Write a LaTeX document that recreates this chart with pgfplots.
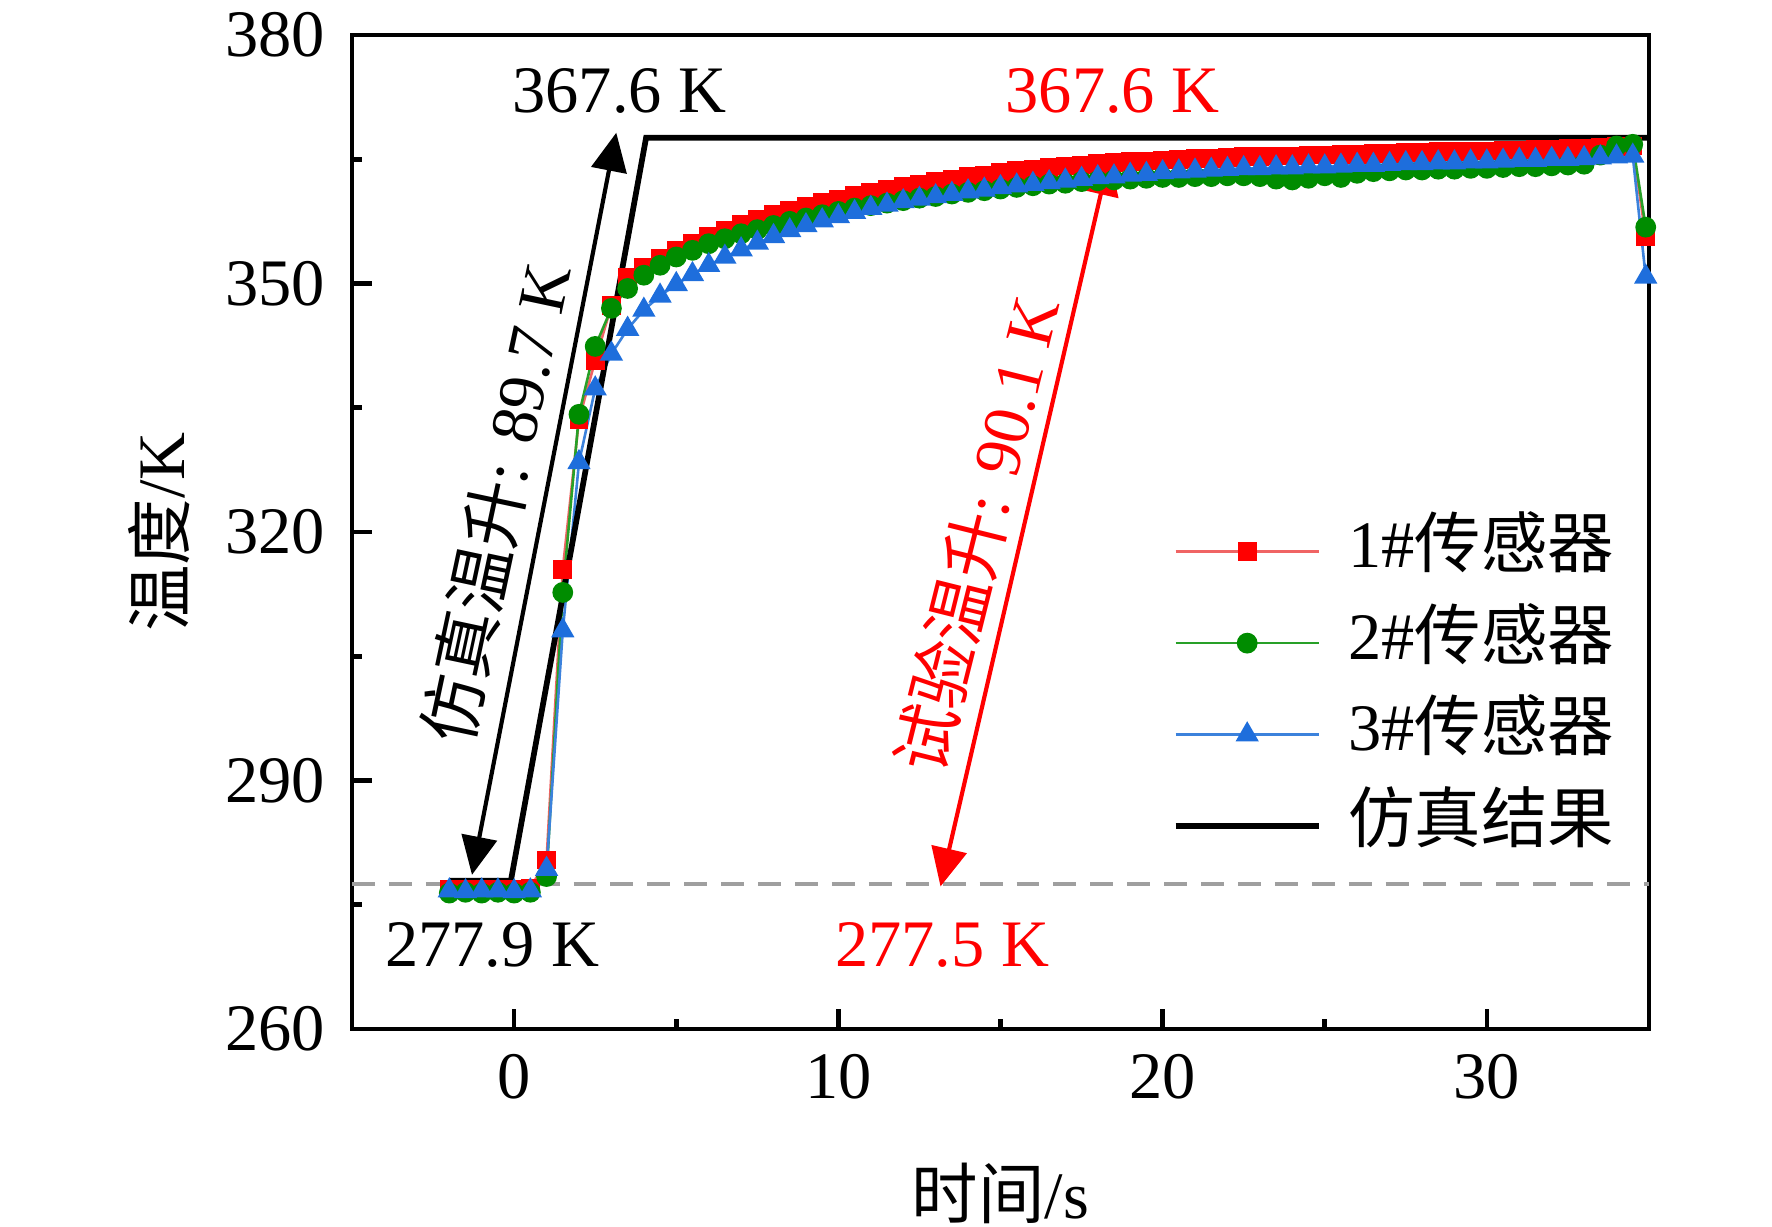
\documentclass[border=0pt]{standalone}
\usepackage{fontspec}
\setmainfont{Liberation Serif}
\newfontfamily\cjk{Noto Sans CJK SC}
\usepackage{pgfplots}
\usepackage{pgfplotstable}
\pgfplotsset{compat=1.18}
\usetikzlibrary{arrows.meta}
\definecolor{cred}{RGB}{255,0,0}
\definecolor{cgreen}{RGB}{0,140,0}
\definecolor{cblue}{RGB}{30,110,220}
\definecolor{lred}{RGB}{240,100,100}
\definecolor{lgreen}{RGB}{40,160,40}
\definecolor{lblue}{RGB}{60,130,220}
\pgfplotstableread{
t r g b
-2.0 276.9 276.4 276.7
-1.5 276.9 276.5 276.6
-1.0 276.8 276.4 276.7
-0.5 276.9 276.5 276.7
0.0 276.9 276.4 276.6
0.5 277.0 276.5 276.7
1.0 280.4 278.4 279.3
1.5 315.5 312.7 308.1
2.0 333.6 334.2 328.4
2.5 340.7 342.4 337.3
3.0 347.3 347.0 341.5
3.5 350.7 349.4 344.5
4.0 352.0 351.0 346.8
4.5 353.0 352.2 348.5
5.0 354.0 353.2 349.9
5.5 354.9 354.0 351.1
6.0 355.7 354.8 352.2
6.5 356.4 355.4 353.2
7.0 357.1 356.0 354.1
7.5 357.7 356.5 354.9
8.0 358.3 357.0 355.7
8.5 358.8 357.5 356.4
9.0 359.3 357.9 357.0
9.5 359.8 358.3 357.6
10.0 360.2 358.7 358.1
10.5 360.6 359.1 358.6
11.0 361.0 359.4 359.1
11.5 361.4 359.7 359.5
12.0 361.7 360.0 359.9
12.5 362.0 360.3 360.2
13.0 362.3 360.5 360.5
13.5 362.6 360.8 360.8
14.0 362.9 361.0 361.1
14.5 363.1 361.2 361.3
15.0 363.4 361.4 361.6
15.5 363.6 361.6 361.8
16.0 363.8 361.8 362.0
16.5 364.0 362.0 362.2
17.0 364.2 362.1 362.4
17.5 364.3 362.3 362.6
18.0 364.5 362.4 362.8
18.5 364.6 362.5 362.9
19.0 364.7 362.6 363.1
19.5 364.8 362.7 363.2
20.0 364.9 362.8 363.4
20.5 365.0 362.8 363.5
21.0 365.1 362.9 363.6
21.5 365.1 362.9 363.7
22.0 365.2 363.0 363.8
22.5 365.3 363.0 363.9
23.0 365.3 362.9 363.9
23.5 365.4 362.6 364.0
24.0 365.4 362.5 364.0
24.5 365.5 362.7 364.1
25.0 365.5 363.0 364.1
25.5 365.6 362.8 364.2
26.0 365.6 363.3 364.3
26.5 365.7 363.5 364.3
27.0 365.7 363.6 364.4
27.5 365.8 363.7 364.5
28.0 365.8 363.7 364.5
28.5 365.9 363.8 364.6
29.0 365.9 363.8 364.6
29.5 366.0 363.9 364.7
30.0 366.0 363.9 364.7
30.5 366.1 364.0 364.8
31.0 366.1 364.1 364.9
31.5 366.2 364.1 364.9
32.0 366.2 364.2 365.0
32.5 366.3 364.3 365.0
33.0 366.3 364.4 365.1
33.5 366.4 365.5 365.2
34.0 366.5 366.6 365.3
34.5 366.6 366.8 365.4
34.9 355.6 356.8 350.8
}\expdata
\begin{document}
\begin{tikzpicture}
\path[use as bounding box] (-2.384,-1.341) rectangle (9.616,6.968);
\begin{axis}[
  at={(0,0)}, anchor=south west,
  scale only axis, width=8.783cm, height=6.731cm,
  xmin=-5, xmax=35, ymin=260, ymax=380,
  xtick={0,10,20,30}, ytick={260,290,320,350,380},
  minor x tick num=1, minor y tick num=1,
  tick pos=left, tick align=inside,
  major tick length=0.135cm, minor tick length=0.07cm,
  every tick/.style={black, line width=0.9pt},
  axis line style={line width=0.9pt},
  font=\fontsize{12.8pt}{15pt}\selectfont,
  /pgf/number format/assume math mode=true,
  ticklabel style={font=\fontsize{12.8pt}{15pt}\selectfont},
  xticklabel style={yshift=-0.05cm},
  yticklabel style={xshift=-0.06cm},
  xlabel={{\cjk 时间}/s},
  ylabel={{\cjk 温度}/K},
  xlabel style={at={(axis description cs:0.5,-0.165)}, anchor=center},
  ylabel style={at={(axis description cs:-0.1488,0.5)}, anchor=center},
  legend style={at={(axis cs:20.28,321.5)}, anchor=north west, draw=none, fill=none,
    inner sep=0pt, row sep=0.2cm, column sep=0.18cm,
    nodes={inner sep=0pt, text height=0.32cm, text depth=0.1cm, anchor=west},
    font=\fontsize{12.8pt}{15pt}\selectfont},
  legend cell align=left,
  legend image code/.code={\draw[mark repeat=2,mark phase=2] plot coordinates {(0cm,0cm)(0.485cm,0cm)(0.97cm,0cm)};},
]
\addplot[forget plot, color=gray!75, line width=0.75pt, dash pattern=on 0.155cm off 0.095cm] coordinates {(-5,277.5)(35,277.5)};
\addplot[color=lred, line width=0.5pt, mark=square*, mark size=1.55pt, mark options={solid, fill=cred, draw=cred}] table[x=t,y=r] {\expdata};
\addlegendentry{1\#{\cjk 传感器}}
\addplot[color=lgreen, line width=0.5pt, mark=*, mark size=1.75pt, mark options={solid, fill=cgreen, draw=cgreen}] table[x=t,y=g] {\expdata};
\addlegendentry{2\#{\cjk 传感器}}
\addplot[color=lblue, line width=0.5pt, mark=triangle*, mark size=2.1pt, mark options={solid, fill=cblue, draw=cblue}] table[x=t,y=b] {\expdata};
\addlegendentry{3\#{\cjk 传感器}}
\addplot[color=black, line width=1.1pt, no marks] coordinates {(-2,277.9)(-0.1,277.9)(4.07,367.6)(35,367.6)};
\addlegendentry{{\cjk 仿真结果}}
\draw[line width=0.8pt, {Triangle[length=0.26cm,width=0.24cm]}-{Triangle[length=0.26cm,width=0.24cm]}] (axis cs:-1.3,278.6) -- (axis cs:3.15,368.2);
\draw[cred, line width=0.8pt, {Triangle[length=0.26cm,width=0.24cm]}-{Triangle[length=0.26cm,width=0.24cm]}] (axis cs:13.15,277.2) -- (axis cs:18.36,365.3);
\node[black] at (axis cs:3.25,373.2) {367.6 K};
\node[cred] at (axis cs:18.46,373.2) {367.6 K};
\node[black] at (axis cs:-0.68,270.1) {277.9 K};
\node[cred] at (axis cs:13.2,270.1) {277.5 K};
\node[black, rotate=78] at (axis cs:-0.56,323.5) {{\cjk 仿真温升}: 89.7 K};
\node[cred, rotate=76] at (axis cs:14.26,319.7) {{\cjk 试验温升}: 90.1 K};
\end{axis}
\end{tikzpicture}
\end{document}
